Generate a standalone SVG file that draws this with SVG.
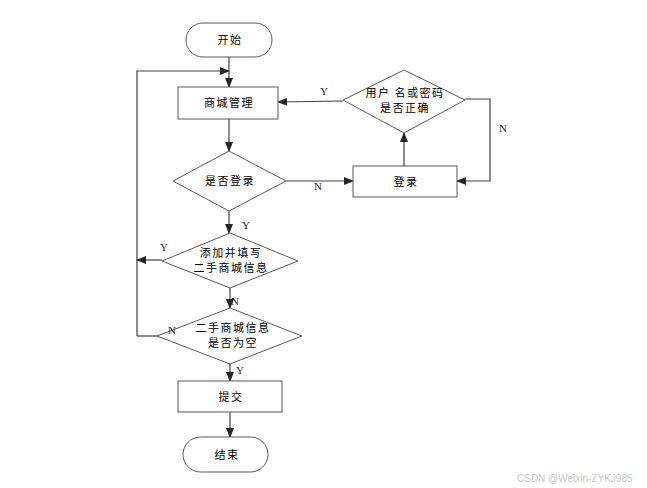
<svg xmlns="http://www.w3.org/2000/svg" width="647" height="488" viewBox="0 0 647 488">
<style>
.s{fill:#fff;stroke:#595959;stroke-width:1}
.t{font-family:"Noto Sans CJK SC","Liberation Sans",sans-serif;font-size:11px;letter-spacing:1.5px;fill:#000;text-anchor:middle}
.l{font-family:"Liberation Serif",serif;font-size:11px;fill:#1a1a3a}
.c{fill:none;stroke:#404040;stroke-width:1.2}
</style>
<defs>
<marker id="a" markerWidth="10" markerHeight="8" refX="9" refY="4" orient="auto" markerUnits="userSpaceOnUse">
<path d="M0,0 L10,4 L0,8 Z" fill="#262626"/>
</marker>
</defs>
<rect width="647" height="488" fill="#fff"/>
<g id="connectors">
<path class="c" d="M229,57 V87" marker-end="url(#a)"/>
<path class="c" d="M137,336 V71 H229" marker-end="url(#a)"/>
<path class="c" d="M229,119 V151" marker-end="url(#a)"/>
<path class="c" d="M286,181 H353" marker-end="url(#a)"/>
<path class="c" d="M404,166 V133" marker-end="url(#a)"/>
<path class="c" d="M343,101 L278,102" marker-end="url(#a)"/>
<path class="c" d="M465,99 H490 V181 H457" marker-end="url(#a)"/>
<path class="c" d="M229,211 V233" marker-end="url(#a)"/>
<path class="c" d="M162,260 H137" marker-end="url(#a)"/>
<path class="c" d="M230,288 V308" marker-end="url(#a)"/>
<path class="c" d="M157,336 H137"/>
<path class="c" d="M230,364 V381" marker-end="url(#a)"/>
<path class="c" d="M230,412 V437" marker-end="url(#a)"/>
</g>
<g id="start"><rect class="s" x="186" y="23" width="86" height="34" rx="17"/><text class="t" x="230" y="44">开始</text></g>
<g id="mall"><rect class="s" x="178" y="87" width="100" height="32"/><text class="t" x="229" y="107">商城管理</text></g>
<g id="islogin"><path class="s" d="M229,151 L286,181 L229,211 L173,181 Z"/><text class="t" x="230" y="185">是否登录</text></g>
<g id="login"><rect class="s" x="353" y="166" width="104" height="31"/><text class="t" x="406" y="186">登录</text></g>
<g id="check"><path class="s" d="M404,70 L465,100 L404,133 L343,100 Z"/><text class="t" x="405" y="97">用户 名或密码</text><text class="t" x="405" y="112">是否正确</text></g>
<g id="fill"><path class="s" d="M230,233 L298,261 L230,288 L162,261 Z"/><text class="t" x="231" y="257">添加并填写</text><text class="t" x="231" y="272">二手商城信息</text></g>
<g id="empty"><path class="s" d="M230,308 L302,336 L230,364 L157,336 Z"/><text class="t" x="233" y="332">二手商城信息</text><text class="t" x="233" y="347">是否为空</text></g>
<g id="submit"><rect class="s" x="178" y="381" width="104" height="31"/><text class="t" x="231" y="401">提交</text></g>
<g id="end"><rect class="s" x="183" y="437" width="85" height="35" rx="17.5"/><text class="t" x="227" y="459">结束</text></g>
<g id="labels">
<text class="l" x="320" y="95">Y</text>
<text class="l" x="314" y="190">N</text>
<text class="l" x="499" y="132">N</text>
<text class="l" x="242" y="229">Y</text>
<text class="l" x="160" y="251">Y</text>
<text class="l" x="231" y="305">N</text>
<text class="l" x="168" y="334">N</text>
<text class="l" x="236" y="374">Y</text>
</g>
<text x="517" y="482" font-family="Liberation Sans,sans-serif" font-size="10" fill="#c8c8c8">CSDN @Weixin-ZYKJ985</text>
</svg>
